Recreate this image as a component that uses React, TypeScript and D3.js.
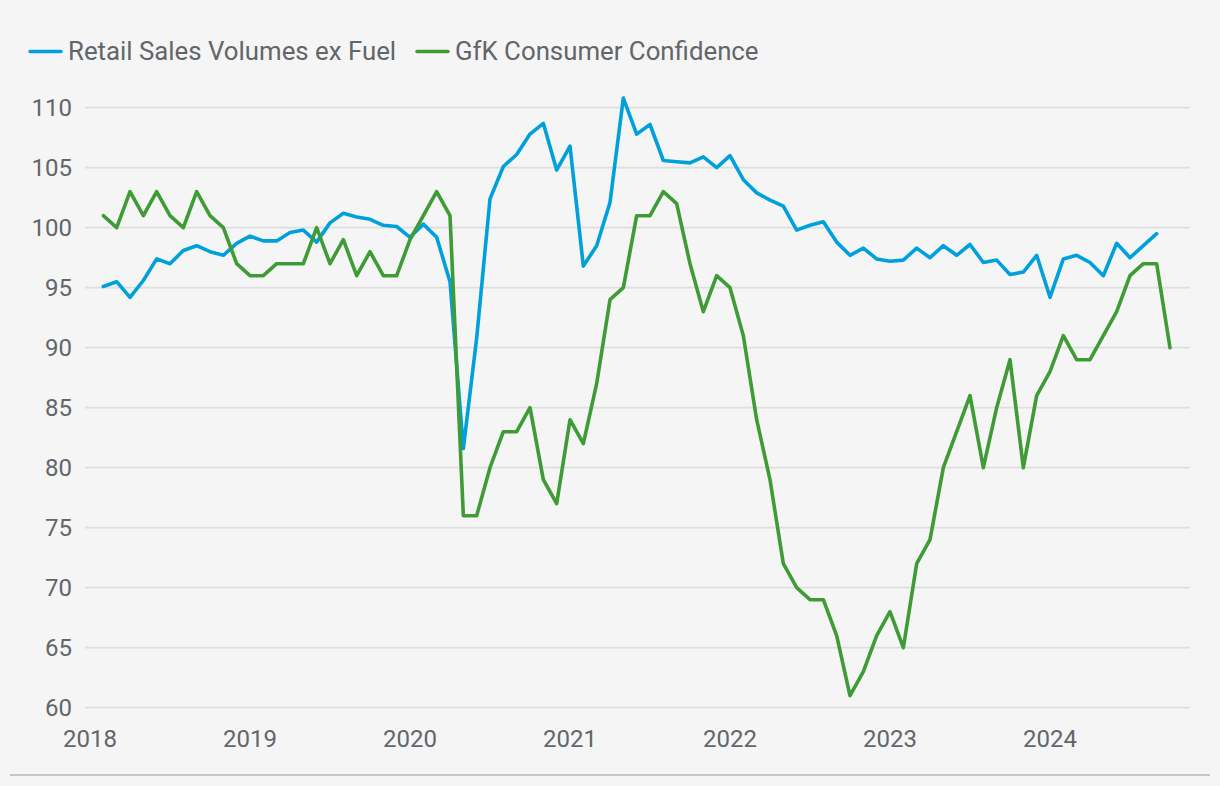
import React from "react";
import * as d3 from "d3";

// Monthly data, first observation Feb 2018 (month index 1 where 0 = Jan 2018)
const START_MONTH_INDEX = 1;

const retailSales: number[] = [
  95.1, 95.5, 94.2, 95.6, 97.4, 97.0, 98.1, 98.5, 98.0, 97.7, 98.7, 99.3,
  98.9, 98.9, 99.6, 99.8, 98.8, 100.4, 101.2, 100.9, 100.7, 100.2, 100.1, 99.2,
  100.3, 99.2, 95.5, 81.6, 90.8, 102.4, 105.1, 106.1, 107.8, 108.7, 104.8, 106.8,
  96.8, 98.5, 102.1, 110.8, 107.8, 108.6, 105.6, 105.5, 105.4, 105.9, 105.0, 106.0,
  104.0, 102.9, 102.3, 101.8, 99.8, 100.2, 100.5, 98.8, 97.7, 98.3, 97.4, 97.2,
  97.3, 98.3, 97.5, 98.5, 97.7, 98.6, 97.1, 97.3, 96.1, 96.3, 97.7, 94.2,
  97.4, 97.7, 97.1, 96.0, 98.7, 97.5, 98.5, 99.5,
];

const gfkConfidence: number[] = [
  101, 100, 103, 101, 103, 101, 100, 103, 101, 100, 97, 96,
  96, 97, 97, 97, 100, 97, 99, 96, 98, 96, 96, 99,
  101, 103, 101, 76, 76, 80, 83, 83, 85, 79, 77, 84,
  82, 87, 94, 95, 101, 101, 103, 102, 97, 93, 96, 95,
  91, 84, 79, 72, 70, 69, 69, 66, 61, 63, 66, 68,
  65, 72, 74, 80, 83, 86, 80, 85, 89, 80, 86, 88,
  91, 89, 89, 91, 93, 96, 97, 97, 90,
];

const seriesNames = ["Retail Sales Volumes ex Fuel", "GfK Consumer Confidence"];
const seriesColors = ["#00a0dc", "#3e9b35"];

const yTicks = [60, 65, 70, 75, 80, 85, 90, 95, 100, 105, 110];
const yearLabels = ["2018", "2019", "2020", "2021", "2022", "2023", "2024"];

const FONT = "Roboto, 'Noto Sans', sans-serif";
const TEXT_COLOR = "#62656a";

export default function App() {
  const width = 1220;
  const height = 786;

  const x = d3.scaleLinear().domain([0, 12]).range([90, 250]);
  const y = d3.scaleLinear().domain([60, 110]).range([707.7, 107.7]);

  const line = d3
    .line<number>()
    .x((_, i) => x(START_MONTH_INDEX + i))
    .y((d) => y(d));

  const series = [retailSales, gfkConfidence];

  React.useEffect(() => {
    document.body.style.margin = "0";
    document.body.style.background = "#f5f5f5";
  }, []);

  const legendX = [30, 417];

  return (
    <svg
      width={width}
      height={height}
      style={{ display: "block", background: "#f5f5f5" }}
      fontFamily={FONT}
    >
      <rect x={0} y={0} width={width} height={height} fill="#f5f5f5" />
      {/* legend */}
      {seriesNames.map((name, i) => (
        <g key={name} transform={`translate(${legendX[i]},0)`}>
          <line
            x1={0}
            x2={31}
            y1={51.5}
            y2={51.5}
            stroke={seriesColors[i]}
            strokeWidth={3.5}
            strokeLinecap="round"
          />
          <text x={38} y={60} fontSize={25.8} fill={TEXT_COLOR}>
            {name}
          </text>
        </g>
      ))}
      {/* grid */}
      {yTicks.map((t) => (
        <g key={t}>
          <line
            x1={85}
            x2={1190}
            y1={y(t)}
            y2={y(t)}
            stroke="#dedede"
            strokeWidth={1.8}
          />
          <text
            x={72}
            y={y(t)}
            dy="0.35em"
            textAnchor="end"
            fontSize={24}
            fill={TEXT_COLOR}
          >
            {t}
          </text>
        </g>
      ))}
      {/* x labels */}
      {yearLabels.map((lab, i) => (
        <text
          key={lab}
          x={x(i * 12)}
          y={747}
          textAnchor="middle"
          fontSize={24}
          fill={TEXT_COLOR}
        >
          {lab}
        </text>
      ))}
      {/* bottom rule */}
      <line x1={10} x2={1210} y1={775} y2={775} stroke="#c6c6c6" strokeWidth={2} />
      {/* series */}
      {series.map((s, i) => (
        <path
          key={i}
          d={line(s) || ""}
          fill="none"
          stroke={seriesColors[i]}
          strokeWidth={3.6}
          strokeLinejoin="round"
          strokeLinecap="round"
        />
      ))}
    </svg>
  );
}
